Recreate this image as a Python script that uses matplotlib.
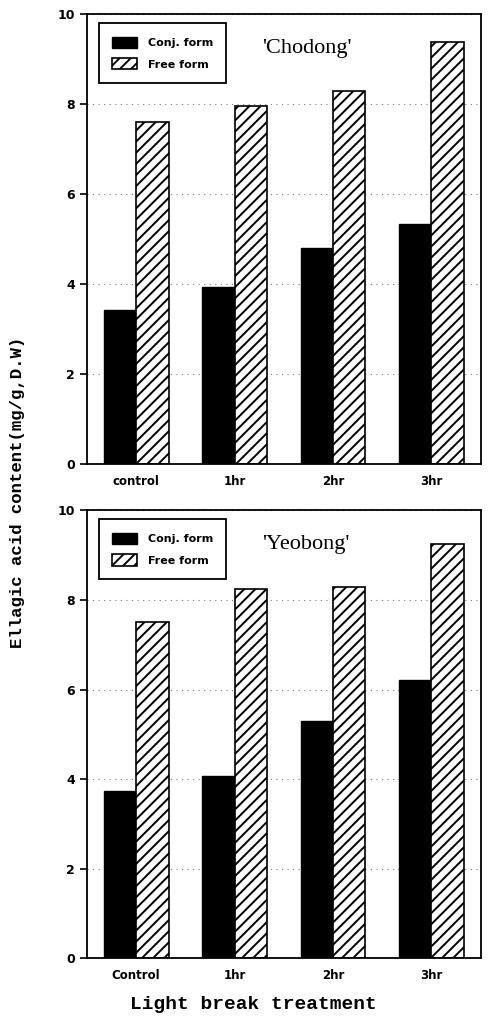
import numpy as np
import matplotlib
matplotlib.use("Agg")
import matplotlib.pyplot as plt

# values (mg/g D.W)
groups_top = ["control", "1hr", "2hr", "3hr"]
groups_bot = ["Control", "1hr", "2hr", "3hr"]
chodong_conj = [3.42, 3.95, 4.80, 5.35]
chodong_free = [7.60, 7.96, 8.29, 9.38]
yeobong_conj = [3.73, 4.08, 5.31, 6.22]
yeobong_free = [7.52, 8.24, 8.28, 9.25]
cultivars = ["'Chodong'", "'Yeobong'"]

plt.rcParams["hatch.linewidth"] = 1.4

fig = plt.figure(figsize=(4.88, 10.25), dpi=100)
ax1 = fig.add_axes([0.178, 0.547, 0.807, 0.439])
ax2 = fig.add_axes([0.178, 0.065, 0.807, 0.437])

w = 0.33
x = np.arange(4)

def draw(ax, conj, free, labels, title):
    ax.bar(x - w / 2, conj, w, color="black", edgecolor="black", label="Conj. form")
    ax.bar(x + w / 2, free, w, color="white", edgecolor="black", hatch="///",
           linewidth=1.2, label="Free form")
    ax.set_xlim(-0.5, 3.5)
    ax.set_ylim(0, 10)
    ax.set_yticks([0, 2, 4, 6, 8, 10])
    ax.set_xticks(x)
    ax.set_xticklabels(labels, fontsize=8.5, fontweight="bold", family="DejaVu Sans")
    for t in ax.get_yticklabels():
        t.set_fontweight("bold")
        t.set_fontsize(9)
    ax.tick_params(axis="x", length=0, pad=8)
    ax.tick_params(axis="y", direction="out", length=5, width=1.2)
    ax.grid(axis="y", linestyle=(0, (1, 4)), color="gray", linewidth=0.8)
    ax.set_axisbelow(True)
    for s in ax.spines.values():
        s.set_linewidth(1.3)
    leg = ax.legend(loc="upper left", bbox_to_anchor=(0.025, 0.985), fancybox=False,
                    edgecolor="black", framealpha=1, handlelength=2.2,
                    handleheight=1.2, borderpad=1.2, labelspacing=0.9,
                    handletextpad=1.0, borderaxespad=0.2,
                    prop={"weight": "bold", "size": 8})
    leg.get_frame().set_linewidth(1.3)
    ax.text(0.445, 0.925, title, transform=ax.transAxes, fontsize=16,
            family="Liberation Serif", ha="left", va="center")

draw(ax1, chodong_conj, chodong_free, groups_top, cultivars[0])
draw(ax2, yeobong_conj, yeobong_free, groups_bot, cultivars[1])

fig.text(0.035, 0.52, "Ellagic acid content(mg/g,D.W)", rotation=90, ha="center",
         va="center", fontsize=12.5, fontweight="bold", family="Liberation Mono")
fig.text(0.52, 0.012, "Light break treatment", ha="center", va="bottom",
         fontsize=14, fontweight="bold", family="Liberation Mono")

fig.savefig("out.png", dpi=100)
